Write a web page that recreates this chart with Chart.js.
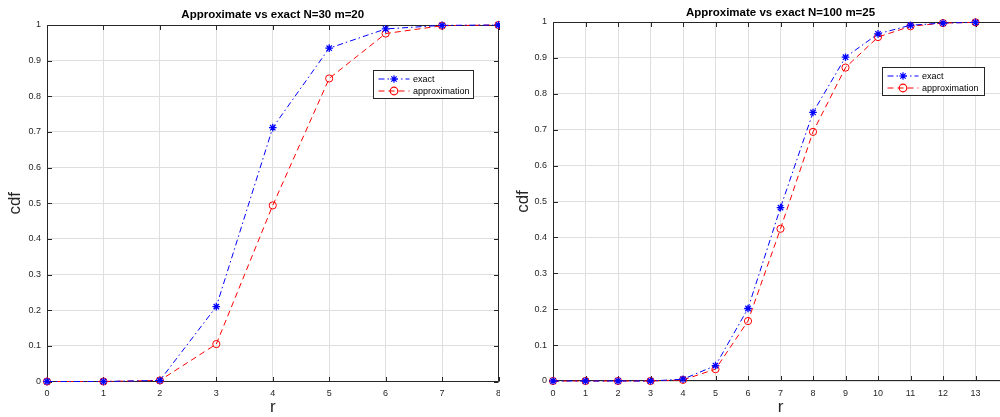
<!DOCTYPE html>
<html><head><meta charset="utf-8">
<script src="https://cdn.jsdelivr.net/npm/chart.js@4.4.1/dist/chart.umd.min.js"></script>
<style>
html,body{margin:0;padding:0;background:#fff;overflow:hidden;width:1000px;height:417px;position:relative;}
#w1{position:absolute;left:0;top:0;width:500px;height:417px;}
#w2{position:absolute;left:500px;top:0;width:520px;height:417px;}
canvas{display:block;}
</style></head><body>
<div id="w1"><canvas id="c1" width="500" height="417"></canvas></div>
<div id="w2"><canvas id="c2" width="520" height="417"></canvas></div>
<script>
// ---- data ----
const rLeft = [0, 1, 2, 3, 4, 5, 6, 7, 8];
const exactLeft = [0, 0, 0.003, 0.21, 0.712, 0.935, 0.989, 0.999, 1];
const approxLeft = [0, 0, 0.003, 0.105, 0.494, 0.85, 0.976, 0.998, 1];

const rRight = [0, 1, 2, 3, 4, 5, 6, 7, 8, 9, 10, 11, 12, 13];
const exactRight = [0, 0, 0, 0, 0.005, 0.043, 0.202, 0.483, 0.748, 0.902, 0.967, 0.991, 0.997, 0.999];
const approxRight = [0, 0, 0, 0, 0.003, 0.033, 0.167, 0.424, 0.694, 0.873, 0.958, 0.988, 0.997, 0.999];

const yTickValues = [0, 0.1, 0.2, 0.3, 0.4, 0.5, 0.6, 0.7, 0.8, 0.9, 1];
const yTickLabels = ['0', '0.1', '0.2', '0.3', '0.4', '0.5', '0.6', '0.7', '0.8', '0.9', '1'];
const xTicksLeft = [0, 1, 2, 3, 4, 5, 6, 7, 8];
const xTicksRight = [0, 1, 2, 3, 4, 5, 6, 7, 8, 9, 10, 11, 12, 13, 14];

const titleLeft = 'Approximate vs exact N=30 m=20';
const titleRight = 'Approximate vs exact N=100 m=25';
const seriesNames = ['exact', 'approximation'];
const xTitle = 'r';
const yTitle = 'cdf';

// ---- styles ----
const FONT = "'Liberation Sans', Arial, Helvetica, sans-serif";
const AX = '#262626';
const GRID = '#dfdfdf';
const BLUE = '#0000ff';
const RED = '#ff0000';
const DASHDOT = [6, 3, 1.5, 3];
const DASH = [6, 4];

function drawMarker(ctx, style, x, y, r, color) {
  ctx.save();
  ctx.setLineDash([]);
  ctx.strokeStyle = color;
  ctx.lineWidth = 1.2;
  ctx.beginPath();
  if (style === 'star') {
    ctx.moveTo(x - r, y); ctx.lineTo(x + r, y);
    ctx.moveTo(x, y - r); ctx.lineTo(x, y + r);
    const d = r * 0.7071;
    ctx.moveTo(x - d, y - d); ctx.lineTo(x + d, y + d);
    ctx.moveTo(x - d, y + d); ctx.lineTo(x + d, y - d);
  } else {
    ctx.arc(x, y, r, 0, Math.PI * 2);
  }
  ctx.stroke();
  ctx.restore();
}

const matlabPlugin = {
  id: 'matlab',
  beforeDatasetsDraw(chart, args, o) {
    const ctx = chart.ctx, a = chart.chartArea;
    const xs = chart.scales.x, ys = chart.scales.y;
    ctx.save();
    ctx.strokeStyle = AX;
    ctx.lineWidth = 1;
    ctx.beginPath();
    const L = Math.round(a.left) + 0.5, R = Math.round(a.right) - 0.5;
    const T = Math.round(a.top) + 0.5, B = Math.round(a.bottom) - 0.5;
    ctx.moveTo(L, T); ctx.lineTo(R, T);
    ctx.moveTo(L, T); ctx.lineTo(L, B); ctx.lineTo(R, B);
    ctx.moveTo(R, T); ctx.lineTo(R, B);
    const tl = 4.5;
    xs.ticks.forEach(t => {
      const px = Math.round(xs.getPixelForValue(t.value)) + 0.5;
      ctx.moveTo(px, B); ctx.lineTo(px, B - tl);
      ctx.moveTo(px, T); ctx.lineTo(px, T + tl);
    });
    ys.ticks.forEach(t => {
      const py = Math.round(ys.getPixelForValue(t.value)) + 0.5;
      ctx.moveTo(L, py); ctx.lineTo(L + tl, py);
      ctx.moveTo(R, py); ctx.lineTo(R - tl, py);
    });
    ctx.stroke();
    // titles
    ctx.fillStyle = '#000';
    ctx.font = 'bold 11.5px ' + FONT;
    ctx.textAlign = 'center';
    ctx.textBaseline = 'middle';
    ctx.fillText(o.title, (a.left + a.right) / 2, o.titleY);
    ctx.fillStyle = AX;
    ctx.font = '17px ' + FONT;
    ctx.fillText(xTitle, (a.left + a.right) / 2, 407);
    ctx.save();
    ctx.translate(o.yTitleX, (a.top + a.bottom) / 2);
    ctx.rotate(-Math.PI / 2);
    ctx.fillText(yTitle, 0, 0);
    ctx.restore();
    ctx.restore();
  },
  afterDatasetsDraw(chart, args, o) {
    const ctx = chart.ctx, a = chart.chartArea;
    const bw = o.legendW, bh = 28;
    const bx = Math.round(a.right - o.legendRight - bw) + 0.5;
    const by = Math.round(a.top + 45) + 0.5;
    ctx.save();
    ctx.fillStyle = '#fff';
    ctx.fillRect(bx, by, bw, bh);
    ctx.strokeStyle = AX;
    ctx.lineWidth = 1;
    ctx.strokeRect(bx, by, bw, bh);
    const ds = chart.data.datasets;
    const rows = [by + 8.5, by + 20.5];
    ds.forEach((d, i) => {
      const y = rows[i];
      ctx.save();
      ctx.strokeStyle = d.borderColor;
      ctx.lineWidth = 1;
      ctx.setLineDash(d.borderDash);
      ctx.beginPath();
      ctx.moveTo(bx + 5, y); ctx.lineTo(bx + 36, y);
      ctx.stroke();
      ctx.restore();
      drawMarker(ctx, d.pointStyle, bx + 20.5, y, 3.8, d.borderColor);
      ctx.fillStyle = '#000';
      ctx.font = '9px ' + FONT;
      ctx.textAlign = 'left';
      ctx.textBaseline = 'middle';
      ctx.fillText(d.label, bx + 39.5, y + 0.5);
    });
    ctx.restore();
  }
};

function makeChart(id, xs, ex, ap, xTicks, xMax, opts) {
  const toPts = (vals) => xs.map((x, i) => ({ x: x, y: vals[i] }));
  return new Chart(document.getElementById(id), {
    type: 'line',
    data: {
      datasets: [
        { label: seriesNames[0], data: toPts(ex), borderColor: BLUE, borderWidth: 1, borderDash: DASHDOT,
          pointStyle: 'star', pointRadius: 3.8, pointBorderWidth: 1.3, pointBorderColor: BLUE,
          pointBackgroundColor: BLUE, fill: false, tension: 0, clip: false },
        { label: seriesNames[1], data: toPts(ap), borderColor: RED, borderWidth: 1, borderDash: DASH,
          pointStyle: 'circle', pointRadius: 3.6, pointBorderWidth: 1, pointBorderColor: RED,
          pointBackgroundColor: 'rgba(0,0,0,0)', fill: false, tension: 0, clip: false }
      ]
    },
    options: {
      responsive: false,
      animation: false,
      events: [],
      layout: { padding: opts.padding, autoPadding: false },
      scales: {
        x: {
          type: 'linear', min: 0, max: xMax,
          afterBuildTicks: (s) => { s.ticks = xTicks.map(v => ({ value: v })); },
          afterFit: (s) => { s.height = opts.xH; s.paddingLeft = 0; s.paddingRight = 0; },
          ticks: { autoSkip: false, maxRotation: 0, padding: 7, color: AX,
                   font: { family: FONT, size: 9 }, callback: (v) => String(v) },
          grid: { color: GRID, drawTicks: false, lineWidth: 1 },
          border: { display: false }
        },
        y: {
          type: 'linear', min: 0, max: 1,
          afterBuildTicks: (s) => { s.ticks = yTickValues.map(v => ({ value: v })); },
          afterFit: (s) => { s.width = opts.yW; s.paddingTop = 0; s.paddingBottom = 0; },
          ticks: { autoSkip: false, padding: 6, color: AX,
                   font: { family: FONT, size: 9 },
                   callback: (v) => { const i = yTickValues.findIndex(t => Math.abs(t - v) < 1e-9); return i >= 0 ? yTickLabels[i] : ''; } },
          grid: { color: GRID, drawTicks: false, lineWidth: 1 },
          border: { display: false }
        }
      },
      plugins: {
        legend: { display: false },
        title: { display: false },
        tooltip: { enabled: false },
        matlab: opts.m
      }
    },
    plugins: [matlabPlugin]
  });
}

makeChart('c1', rLeft, exactLeft, approxLeft, xTicksLeft, 8, {
  padding: { top: 25, right: 1.5, bottom: 0, left: 0 }, yW: 47, xH: 35.5,
  m: { title: titleLeft, titleY: 15, yTitleX: 15, legendRight: 25.5, legendW: 100 }
});
makeChart('c2', rRight, exactRight, approxRight, xTicksRight, 14, {
  padding: { top: 22, right: 12, bottom: 0, left: 0 }, yW: 53, xH: 36,
  m: { title: titleRight, titleY: 13, yTitleX: 23, legendRight: 24, legendW: 102 }
});
</script>
</body></html>
